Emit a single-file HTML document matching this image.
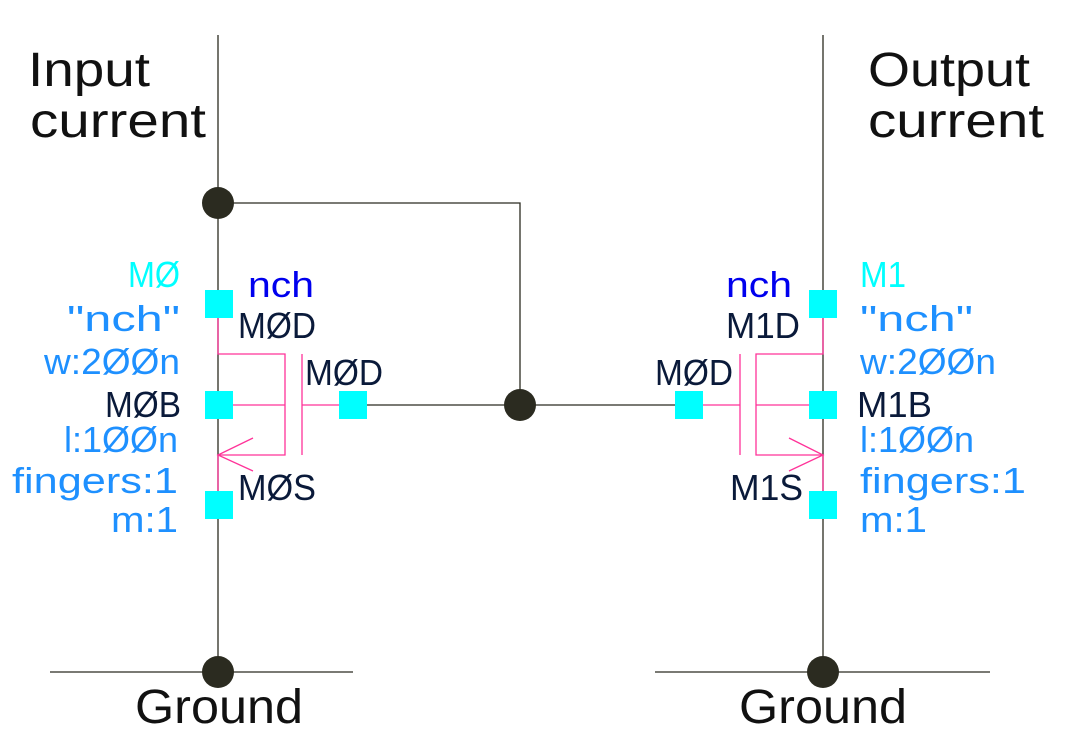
<!DOCTYPE html>
<html><head><meta charset="utf-8"><style>
html,body{margin:0;padding:0;background:#fff;}
svg{display:block;}
text{font-family:"Liberation Sans",sans-serif;}
</style></head><body>
<svg width="1088" height="755" viewBox="0 0 1088 755" xmlns="http://www.w3.org/2000/svg">
<g stroke="#2b2b20" stroke-width="1.3" fill="none">
<line x1="218" y1="35" x2="218" y2="672"/>
<line x1="823" y1="35" x2="823" y2="672"/>
<polyline points="218,203 520,203 520,405"/>
<line x1="367" y1="405" x2="675" y2="405"/>
<line x1="50" y1="672" x2="353" y2="672"/>
<line x1="655" y1="672" x2="990" y2="672"/>
</g>
<g stroke="#ff3399" stroke-width="1.3" fill="none">
<polyline points="218,317 218,354 285,354 285,455 218,455 218,492"/>
<line x1="302" y1="354" x2="302" y2="455"/>
<line x1="232" y1="405" x2="285" y2="405"/>
<line x1="302" y1="405" x2="340" y2="405"/>
<polyline points="253,438 218,455 253,471"/>
<polyline points="823,317 823,354 756,354 756,455 823,455 823,492"/>
<line x1="740" y1="354" x2="740" y2="455"/>
<line x1="756" y1="405" x2="809" y2="405"/>
<line x1="703" y1="405" x2="740" y2="405"/>
<polyline points="789,438 823,455 789,471"/>
</g>
<g fill="#00ffff">
<rect x="205" y="290" width="28" height="28"/>
<rect x="205" y="391" width="28" height="28"/>
<rect x="205" y="491" width="28" height="28"/>
<rect x="339" y="391" width="28" height="28"/>
<rect x="809" y="290" width="28" height="28"/>
<rect x="809" y="391" width="28" height="28"/>
<rect x="809" y="491" width="28" height="28"/>
<rect x="675" y="391" width="28" height="28"/>
</g>
<g fill="#2b2b20">
<circle cx="218" cy="203" r="16"/>
<circle cx="520" cy="405" r="16"/>
<circle cx="218" cy="672" r="16"/>
<circle cx="823" cy="672" r="16"/>
</g>
<g fill="#111" font-size="48">
<text x="28" y="86" textLength="122" lengthAdjust="spacingAndGlyphs">Input</text>
<text x="30" y="137" textLength="176" lengthAdjust="spacingAndGlyphs">current</text>
<text x="868" y="86" textLength="162" lengthAdjust="spacingAndGlyphs">Output</text>
<text x="868" y="137" textLength="176" lengthAdjust="spacingAndGlyphs">current</text>
<text x="135" y="723" textLength="168" lengthAdjust="spacingAndGlyphs">Ground</text>
<text x="739" y="723" textLength="168" lengthAdjust="spacingAndGlyphs">Ground</text>
</g>
<g font-size="36">
<text x="128" y="287" fill="#00ffff" textLength="52" lengthAdjust="spacingAndGlyphs">MØ</text>
<text x="67" y="331" fill="#1e90ff" textLength="113" lengthAdjust="spacingAndGlyphs">"nch"</text>
<text x="44" y="374" fill="#1e90ff" textLength="136" lengthAdjust="spacingAndGlyphs">w:2ØØn</text>
<text x="105" y="417" fill="#0a1a3a" textLength="76" lengthAdjust="spacingAndGlyphs">MØB</text>
<text x="64" y="452" fill="#1e90ff" textLength="114" lengthAdjust="spacingAndGlyphs">l:1ØØn</text>
<text x="12" y="493" fill="#1e90ff" textLength="166" lengthAdjust="spacingAndGlyphs">fingers:1</text>
<text x="111" y="532" fill="#1e90ff" textLength="67" lengthAdjust="spacingAndGlyphs">m:1</text>
<text x="248" y="297" fill="#0000ee" textLength="66" lengthAdjust="spacingAndGlyphs">nch</text>
<text x="238" y="338" fill="#0a1a3a" textLength="78" lengthAdjust="spacingAndGlyphs">MØD</text>
<text x="305" y="385" fill="#0a1a3a" textLength="78" lengthAdjust="spacingAndGlyphs">MØD</text>
<text x="238" y="500" fill="#0a1a3a" textLength="78" lengthAdjust="spacingAndGlyphs">MØS</text>

<text x="860" y="287" fill="#00ffff" textLength="46" lengthAdjust="spacingAndGlyphs">M1</text>
<text x="860" y="331" fill="#1e90ff" textLength="113" lengthAdjust="spacingAndGlyphs">"nch"</text>
<text x="860" y="374" fill="#1e90ff" textLength="136" lengthAdjust="spacingAndGlyphs">w:2ØØn</text>
<text x="857" y="417" fill="#0a1a3a" textLength="75" lengthAdjust="spacingAndGlyphs">M1B</text>
<text x="860" y="452" fill="#1e90ff" textLength="114" lengthAdjust="spacingAndGlyphs">l:1ØØn</text>
<text x="860" y="493" fill="#1e90ff" textLength="166" lengthAdjust="spacingAndGlyphs">fingers:1</text>
<text x="860" y="532" fill="#1e90ff" textLength="67" lengthAdjust="spacingAndGlyphs">m:1</text>
<text x="726" y="297" fill="#0000ee" textLength="66" lengthAdjust="spacingAndGlyphs">nch</text>
<text x="726" y="338" fill="#0a1a3a" textLength="74" lengthAdjust="spacingAndGlyphs">M1D</text>
<text x="655" y="385" fill="#0a1a3a" textLength="78" lengthAdjust="spacingAndGlyphs">MØD</text>
<text x="730" y="500" fill="#0a1a3a" textLength="73" lengthAdjust="spacingAndGlyphs">M1S</text>
</g>
</svg>
</body></html>
